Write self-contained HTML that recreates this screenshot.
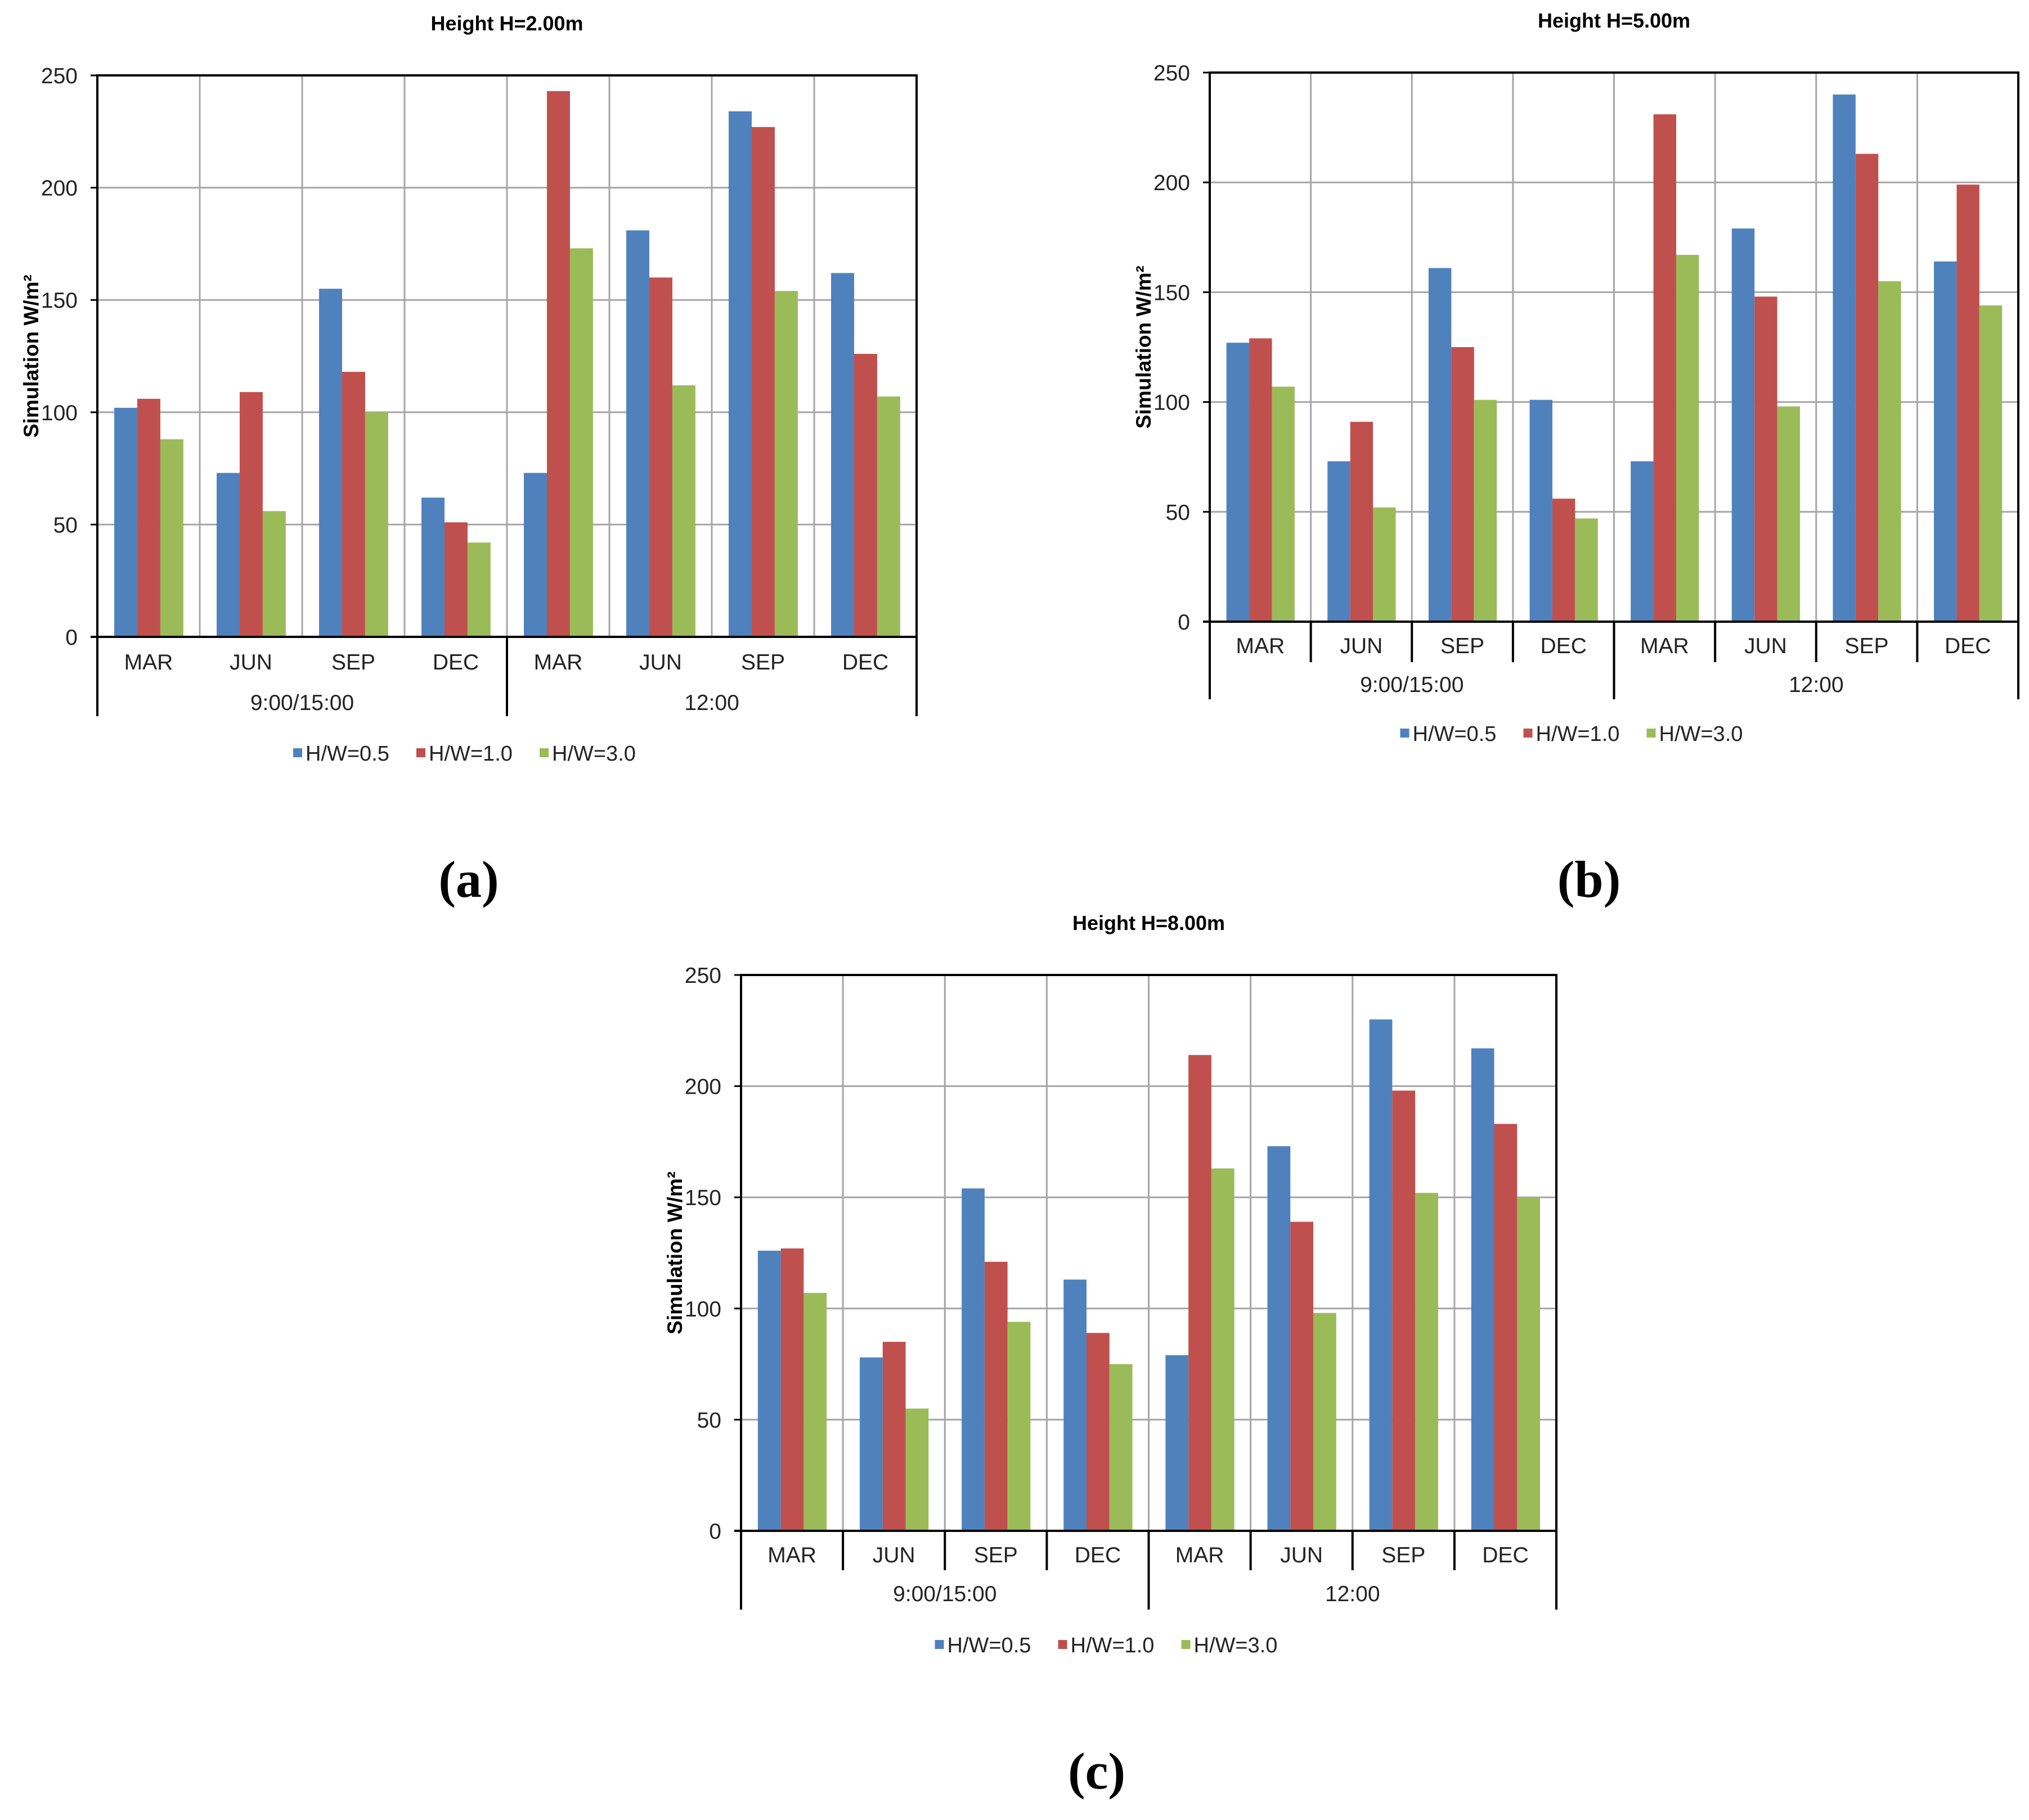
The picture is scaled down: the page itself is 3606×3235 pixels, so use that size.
<!DOCTYPE html>
<html><head><meta charset="utf-8"><style>
html,body{margin:0;padding:0;background:#fff;}
svg{display:block;}
</style></head><body>
<svg id="fig" width="3606" height="3235" xmlns="http://www.w3.org/2000/svg" font-family="Liberation Sans, Arial, sans-serif">
<rect width="3606" height="3235" fill="#fff"/>
<text x="833" y="1594" font-family="Liberation Serif, serif" font-weight="bold" font-size="92" text-anchor="middle">(a)</text>
<text x="2824" y="1594" font-family="Liberation Serif, serif" font-weight="bold" font-size="92" text-anchor="middle">(b)</text>
<text x="1949" y="3179" font-family="Liberation Serif, serif" font-weight="bold" font-size="92" text-anchor="middle">(c)</text>
</svg>
<script>
const categories = ["MAR","JUN","SEP","DEC","MAR","JUN","SEP","DEC"];
const groups = ["9:00/15:00","12:00"];
const seriesNames = ["H/W=0.5","H/W=1.0","H/W=3.0"];
const yTicks = [0,50,100,150,200,250];
const a_s1 = [102,73,155,62,73,181,234,162];
const a_s2 = [106,109,118,51,243,160,227,126];
const a_s3 = [88,56,100,42,173,112,154,107];
const b_s1 = [127,73,161,101,73,179,240,164];
const b_s2 = [129,91,125,56,231,148,213,199];
const b_s3 = [107,52,101,47,167,98,155,144];
const c_s1 = [126,78,154,113,79,173,230,217];
const c_s2 = [127,85,121,89,214,139,198,183];
const c_s3 = [107,55,94,75,163,98,152,150];
const colors = ["#4F81BD","#C0504D","#9BBB59"];
const NS = "http://www.w3.org/2000/svg";
const svg = document.getElementById("fig");
function mk(tag, attrs, parent){
  const e = document.createElementNS(NS, tag);
  for (const k in attrs) e.setAttribute(k, attrs[k]);
  (parent||svg).appendChild(e);
  return e;
}
function chart(id, title, L, R, T, B, catY, tickBottom, grpY, grpBottom, legY, catTicks, data){
  const g = mk("g", {});
  
  
  const ymax = 250;
  const y = v => B - (v/ymax)*(B-T);
  const cw = (R-L)/categories.length;
  const x = i => L + i*cw;
  const t = mk("text", {x:(L+R)/2, y:T-80, "font-size":36, "font-weight":"bold", "text-anchor":"middle"}, g);
  t.textContent = title;
  
  
  yTicks.forEach(v => {
    if (v>0) {
      const l = mk("line", {x1:L, x2:R, y1:y(v), y2:y(v), stroke:"#a6a6a6", "stroke-width":3}, g);
      
      
    }
    const tl = mk("text", {x:L-35, y:y(v)+14, "font-size":39, "text-anchor":"end", fill:"#222"}, g);
    tl.textContent = v;
    
    
    const tk = mk("line", {x1:L-12, x2:L, y1:y(v), y2:y(v), stroke:"#000", "stroke-width":3}, g);
    
    
  });
  for (let i=1;i<categories.length;i++){
    const l = mk("line", {x1:x(i), x2:x(i), y1:T, y2:B, stroke:"#a6a6a6", "stroke-width":3}, g);
    
    
  }
  const bw = cw*0.225, off = cw*0.165;
  data.forEach((s, si) => {
    s.forEach((v, i) => {
      const r = mk("rect", {x:x(i)+off+si*bw, y:y(v), width:bw, height:B-y(v), fill:colors[si]}, g);
      
      
    });
  });
  const ax = mk("path", {d:`M${L} ${grpBottom} V${T} H${R} V${grpBottom} M${L-12} ${B} H${R} M${(L+R)/2} ${B} V${grpBottom}`, fill:"none", stroke:"#000", "stroke-width":4}, g);
  
  
  if (catTicks){
    for (let i=1;i<categories.length;i++){
      if (i===4) continue;
      const l = mk("line", {x1:x(i), x2:x(i), y1:B, y2:tickBottom, stroke:"#000", "stroke-width":4}, g);
      
      
    }
  }
  categories.forEach((c,i) => {
    const tl = mk("text", {x:x(i)+cw/2, y:catY, "font-size":39, "text-anchor":"middle", fill:"#222"}, g);
    tl.textContent = c;
    
    
  });
  groups.forEach((gr,i) => {
    const tl = mk("text", {x:L+(R-L)*(0.25+0.5*i), y:grpY, "font-size":39, "text-anchor":"middle", fill:"#222"}, g);
    tl.textContent = gr;
    
    
  });
  const yt = mk("text", {transform:`translate(${L-105},${(T+B)/2}) rotate(-90)`, "font-size":37, "font-weight":"bold", "text-anchor":"middle"}, g);
  yt.textContent = "Simulation W/m²";
  
  
  const lx0 = (L+R)/2 - 380;
  seriesNames.forEach((n,i) => {
    const lg = mk("g", {}, g);
    
    
    const lx = lx0 + i*219;
    mk("rect", {x:lx, y:legY-8, width:16, height:16, fill:colors[i]}, lg);
    const tx = mk("text", {x:lx+22, y:legY+14, "font-size":38, fill:"#222"}, lg);
    tx.textContent = n;
  });
}
chart("chart-a", "Height H=2.00m", 173, 1629, 134, 1132, 1190, 1205, 1262, 1273, 1338, false, [a_s1,a_s2,a_s3]);
chart("chart-b", "Height H=5.00m", 2150, 3587, 129, 1105, 1161, 1177, 1230, 1243, 1303, true, [b_s1,b_s2,b_s3]);
chart("chart-c", "Height H=8.00m", 1317, 2766, 1733, 2721, 2777, 2791, 2846, 2861, 2923, true, [c_s1,c_s2,c_s3]);
</script>
</body></html>
